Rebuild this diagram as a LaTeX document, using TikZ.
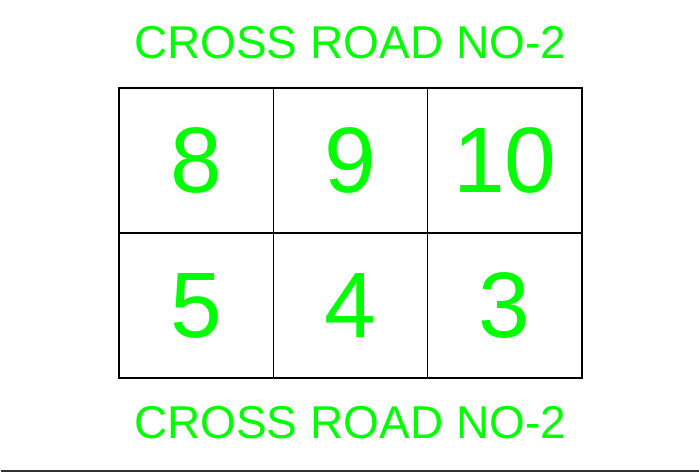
\documentclass[tikz,border=0pt]{standalone}
\usepackage{fontspec}
\setmainfont{Liberation Sans}
\definecolor{roadgreen}{RGB}{0,255,0}
\definecolor{edgegray}{RGB}{50,50,50}
\begin{document}
\begin{tikzpicture}[
  x=1pt, y=-1pt,
  plot/.style={draw, line width=1.6pt, minimum width=154.33pt, minimum height=145pt, inner sep=0pt,
    text=roadgreen, font=\fontsize{93}{93}\selectfont},
  road/.style={anchor=base, text=roadgreen, inner sep=0pt, font=\fontsize{46}{46}\selectfont}
]
\useasboundingbox (0,0) rectangle (699,474);
\node[road] (north) at (350,58) {CROSS ROAD NO-2};
\node[plot] (p8) at (196.17,160.5) {\raisebox{-2pt}{8}};
\node[plot] (p9) at (350.5,160.5) {\raisebox{-2pt}{9}};
\node[plot] (p10) at (504.83,160.5) {\raisebox{-2pt}{10}};
\node[plot] (p5) at (196.17,305.5) {\raisebox{-2pt}{5}};
\node[plot] (p4) at (350.5,305.5) {\raisebox{-2pt}{4}};
\node[plot] (p3) at (504.83,305.5) {\raisebox{-2pt}{3}};
\node[road] (south) at (350,438) {CROSS ROAD NO-2};
\coordinate (edgeL) at (1,470.5);
\coordinate (edgeR) at (699,470.5);
\draw[edgegray, line width=2pt] (edgeL) -- (edgeR);
\end{tikzpicture}
\end{document}
